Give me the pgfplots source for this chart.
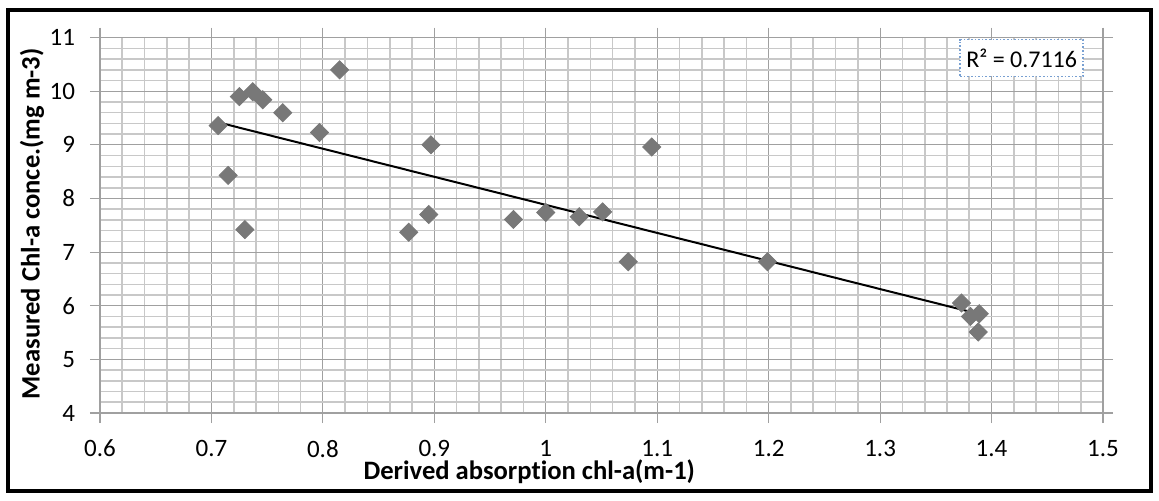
\documentclass[border=0pt]{standalone}
\usepackage{pgfplots}
\pgfplotsset{compat=1.18}
\usepackage{fontspec}
\setmainfont{Carlito}
\definecolor{markgray}{RGB}{120,120,120}
\definecolor{dotblue}{RGB}{120,160,210}
\definecolor{majgrid}{RGB}{160,160,160}
\definecolor{mingrid}{RGB}{200,200,200}
\begin{document}
\begin{tikzpicture}
\useasboundingbox (0pt,0pt) rectangle (579.5pt,250pt);
\draw[line width=2pt] (4pt,4.5pt) rectangle (575.5pt,245pt);
\begin{axis}[at={(50pt,43.5pt)}, anchor=south west, scale only axis,
  width=501.5pt, height=187.7pt,
  xmin=0.6, xmax=1.5, ymin=4, ymax=11,
  xtick={0.6,0.7,0.8,0.9,1,1.1,1.2,1.3,1.4,1.5},
  ytick={4,5,6,7,8,9,10,11},
  minor x tick num=4, minor y tick num=4,
  grid=both,
  major grid style={majgrid, line width=0.6pt},
  minor grid style={mingrid, line width=0.8pt},
  axis line style={majgrid, line width=0.6pt},
  tick align=outside,
  major tick length=5pt,
  minor tick length=0pt,
  tick style={majgrid, line width=0.6pt},
  /pgf/number format/assume math mode=true,
  tick label style={font=\fontsize{12.5}{14}\selectfont},
  x tick label style={yshift=-5pt},
  y tick label style={xshift=-4pt},
  xlabel={Derived absorpt\kern0pt ion chl-a(m-1)},
  ylabel={Measured Chl-a conce.(mg m-3)},
  label style={font=\bfseries\fontsize{13.3}{15}\selectfont},
  x label style={at={(axis description cs:0.428,0)}, anchor=center, yshift=-29.5pt},
  y label style={at={(axis description cs:0,0.504)}, anchor=center, yshift=34pt},
  clip=false,
]
\addplot[only marks, mark=square*, mark size=3.2pt, mark options={rotate=45, fill=markgray, draw=markgray}]
coordinates {
(0.706,9.36) (0.715,8.43) (0.725,9.90) (0.730,7.42) (0.737,9.99)
(0.746,9.84) (0.764,9.60) (0.797,9.23) (0.815,10.40)
(0.877,7.37) (0.897,9.00) (0.895,7.70)
(0.971,7.61) (1.000,7.74) (1.030,7.66) (1.051,7.75) (1.074,6.82) (1.095,8.96)
(1.199,6.82) (1.373,6.05) (1.381,5.80) (1.389,5.85) (1.388,5.51)
};
\addplot[black, line width=1pt] coordinates {(0.706,9.42) (1.390,5.84)};
\node[draw=dotblue, densely dotted, line width=0.8pt, fill=white, inner xsep=3pt, inner ysep=4.5pt,
  font=\fontsize{12}{14}\selectfont] at (axis cs:1.427,10.62) {R² = 0.7116};
\end{axis}
\end{tikzpicture}
\end{document}
